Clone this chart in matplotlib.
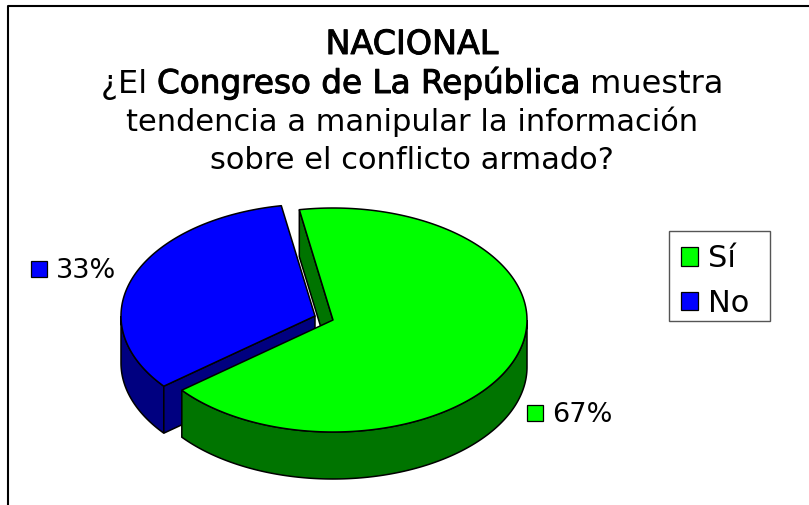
import matplotlib
matplotlib.use('Agg')
import matplotlib.pyplot as plt
import matplotlib.patheffects as pe
from matplotlib.patches import Patch, Polygon, Rectangle
import numpy as np

categories = ['Sí', 'No']
values = [67, 33]
value_labels = ['67%', '33%']

title_top = 'NACIONAL'
question_parts = ['¿El ', 'Congreso de La República', ' muestra']
question_rest = ['tendencia a manipular la información', 'sobre el conflicto armado?']

GREEN = '#00ff00'
BLUE = '#0000ff'
DARK_GREEN = '#007400'
DARK_BLUE = '#000080'

RX, RY = 194, 112
DEPTH = 47
START = 100  # where the green slice starts, degrees, going clockwise


def rim(cx, cy, a0, a1):
    t = np.radians(np.linspace(a0, a1, 200))
    return np.column_stack([cx + RX * np.cos(t), cy - RY * np.sin(t)])


def draw_top(ax, cx, cy, a0, a1, color):
    pts = np.vstack([[[cx, cy]], rim(cx, cy, a0, a1)])
    ax.add_patch(Polygon(pts, closed=True, fc=color, ec='black', lw=1.1, joinstyle='round'))


def draw_wall(ax, pts, color):
    low = pts[::-1] + [0, DEPTH]
    ax.add_patch(Polygon(np.vstack([pts, low]), closed=True, fc=color, ec='black', lw=1.1))


fig = plt.figure(figsize=(8.09, 5.05), dpi=100)
ax = fig.add_axes([0, 0, 1, 1])
ax.set_xlim(0, 809)
ax.set_ylim(505, 0)
ax.axis('off')

# frame, only top and left are in the picture
ax.plot([8, 8, 809], [505, 6, 6], color='black', lw=1.5, solid_capstyle='butt')

split = START + values[1] / sum(values) * 360

# blue slice is pulled out to the left
bx, by = 315, 316
draw_wall(ax, rim(bx, by, 180, split), DARK_BLUE)
draw_wall(ax, np.array([[bx, by], rim(bx, by, split, split)[0]]), DARK_BLUE)
draw_top(ax, bx, by, START, split, BLUE)

# green slice
gx, gy = 333, 320
draw_wall(ax, np.array([rim(gx, gy, START, START)[0], [gx, gy]]), DARK_GREEN)
draw_wall(ax, rim(gx, gy, split, 360), DARK_GREEN)
draw_top(ax, gx, gy, split, START + 360, GREEN)

# title
faux_bold = [pe.withStroke(linewidth=0.7, foreground='black')]
fs = 22
ax.text(412, 54, title_top, ha='center', va='baseline', fontsize=24, path_effects=faux_bold)
for y, line in zip([131, 169], question_rest):
    ax.text(412, y, line, ha='center', va='baseline', fontsize=fs)

# second line is three pieces because the middle one is heavier
fig.canvas.draw()
rend = fig.canvas.get_renderer()
pieces = []
for i, part in enumerate(question_parts):
    t = ax.text(0, 93, part.replace(' ', '\u00a0'), ha='left', va='baseline',
                fontsize=23.5 if i == 1 else 23,
                path_effects=faux_bold if i == 1 else None)
    pieces.append(t)
widths = [p.get_window_extent(rend).width for p in pieces]
x = 412 - sum(widths) / 2
for p, w in zip(pieces, widths):
    p.set_x(x)
    x += w

# data labels with their little keys
for (sx, sy, tx), lab, col in zip([(527, 405, 552), (31, 261, 56)], value_labels, [GREEN, BLUE]):
    ax.add_patch(Rectangle((sx, sy), 16, 16, fc=col, ec='black', lw=0.9))
    ax.text(tx, sy + 9.5, lab, ha='left', va='center', fontsize=19.5)

# legend box is drawn apart, its size does not follow the entries here
ax.add_patch(Rectangle((669, 231), 101, 90, fc='white', ec='#555555', lw=1.0))
handles = [Patch(fc=GREEN, ec='black', lw=0.9), Patch(fc=BLUE, ec='black', lw=0.9)]
ax.legend(handles, categories, loc='upper left', bbox_to_anchor=(681 / 809, 1 - 244 / 505),
          borderaxespad=0, fontsize=22, frameon=False, handlelength=0.56, handleheight=0.56,
          handletextpad=0.33, labelspacing=0.52, borderpad=0)

fig.savefig('out.png', dpi=100)
